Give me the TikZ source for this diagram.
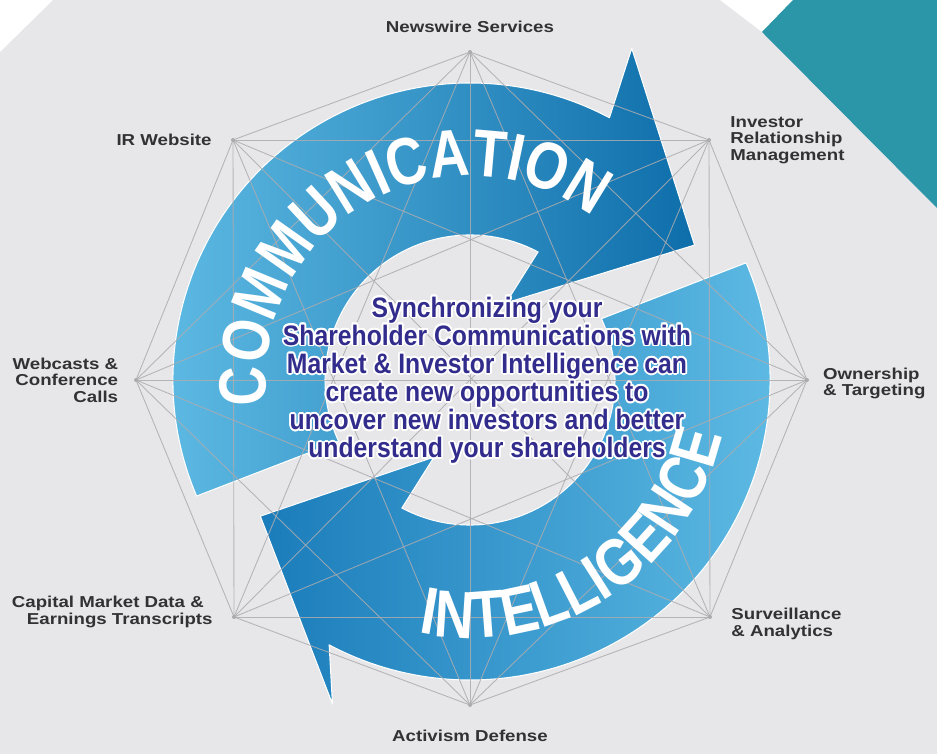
\documentclass[tikz,border=0pt]{standalone}
\usepackage{fontspec}
\usepackage{contour}
\usetikzlibrary{positioning,calc,decorations.text}
\setmainfont{Liberation Sans}
\newfontfamily\lblfont{Liberation Sans}[FakeStretch=1.18]
\newfontfamily\msgfont{Liberation Sans}[FakeStretch=0.88]
\newfontfamily\bandfont{Liberation Sans}[FakeStretch=0.82]
\newcommand\bandtext{\bandfont\bfseries\fontsize{38}{38}\selectfont}
\newcommand\msgline[1]{\contour{white}{#1}}
\contourlength{1pt}
\definecolor{bggray}{RGB}{231,231,233}
\definecolor{tealcorner}{RGB}{42,150,168}
\definecolor{meshgray}{RGB}{172,172,176}
\definecolor{lightblue}{RGB}{98,190,230}
\definecolor{darkblue}{RGB}{14,110,170}
\definecolor{midblue}{RGB}{26,124,186}
\definecolor{msgblue}{RGB}{50,44,140}
\definecolor{labelgray}{RGB}{50,50,52}

\begin{document}
\begin{tikzpicture}[x=0.02cm,y=0.02cm,join=round,
    lbl/.style={font=\lblfont\bfseries\fontsize{9}{9.4}\selectfont,text=labelgray,inner sep=0pt},
    mesh/.style={draw=meshgray,line width=0.5pt,opacity=0.85},
    commarrow/.style={left color=lightblue,right color=darkblue,draw=white,line width=0.6pt},
    intelarrow/.style={left color=midblue,right color=lightblue,draw=white,line width=0.6pt}]
  \useasboundingbox (0,0) rectangle (937,754);
  \fill[bggray] (0,0) rectangle (937,754);
  \fill[white] (0,754)--(53,754)--(0,702)--cycle;
  \fill[white] (720,754)--(793,754)--(762,722)--cycle;
  \fill[tealcorner] (793,754)--(937,754)--(937,546)--(762,722)--cycle;
  % octagon corners
  \coordinate (v0) at (470,702);
  \coordinate (v1) at (709,614);
  \coordinate (v2) at (807,374);
  \coordinate (v3) at (710,137);
  \coordinate (v4) at (470,49);
  \coordinate (v5) at (234,137);
  \coordinate (v6) at (136,374);
  \coordinate (v7) at (233,614);
  \coordinate (ctr) at (470,374);
  % the two arrows
  \begin{scope}[shift={(ctr)}]
    \draw[commarrow] (203:297) arc[start angle=203,end angle=62,radius=297]
        -- (64:369) -- (31:262) -- (65:85) -- (62:145)
        arc[start angle=62,end angle=205,radius=145] -- cycle;
    \draw[intelarrow] (23:300) arc[start angle=23,end angle=-118,radius=300]
        -- (-113:352) -- (213:250) -- (-115:85) -- (-118:145)
        arc[start angle=-118,end angle=25,radius=145] -- cycle;
  \end{scope}
  % wire frame, every corner to every corner
  \foreach \i in {0,...,6}{
    \pgfmathtruncatemacro\nxt{\i+1}
    \foreach \j in {\nxt,...,7}
      \draw[mesh] (v\i) -- (v\j);
  }
  \foreach \i in {0,...,7}
    \fill[meshgray] (v\i) circle (2);
  \begin{scope}[shift={(ctr)}]
    \path[decorate,decoration={text along path,text align=center,text color=white,
        text={|\bandtext|COMMUNICATION}}]
        (200:204) arc[start angle=200,end angle=40,radius=204];
    \path[decorate,decoration={text along path,text align=center,text color=white,
        text={|\bandtext|INTELLIGENCE}}]
        (-120:258) arc[start angle=-120,end angle=6,radius=258];
  \end{scope}
  \node[font=\msgfont\bfseries\fontsize{16}{16}\selectfont,text=msgblue,align=center,inner sep=0pt]
      (msg) at (487,373) {\msgline{Synchronizing your}\\
      \msgline{Shareholder Communications with}\\
      \msgline{Market \& Investor Intelligence can}\\
      \msgline{create new opportunities to}\\
      \msgline{uncover new investors and better}\\
      \msgline{understand your shareholders}};
  % labels
  \node[lbl,above=11pt of v0] (nws) {Newswire Services};
  \node[lbl,align=left,right=12pt of v1] (irm) {Investor\\Relationship\\Management};
  \node[lbl,align=left,right=9pt of v2,yshift=-2pt] (own) {Ownership\\\& Targeting};
  \node[lbl,align=left,right=12pt of v3,yshift=-4pt] (srv) {Surveillance\\\& Analytics};
  \node[lbl,below=14pt of v4] (act) {Activism Defense};
  \node[lbl,align=right,left=12pt of v5,yshift=3pt] (cap) {Capital Market Data \&\hspace*{5pt}\\Earnings Transcripts};
  \node[lbl,align=right,left=10pt of v6] (web) {Webcasts \&\\Conference\\Calls};
  \node[lbl,left=12pt of v7] (irw) {IR Website};
\end{tikzpicture}
\end{document}
